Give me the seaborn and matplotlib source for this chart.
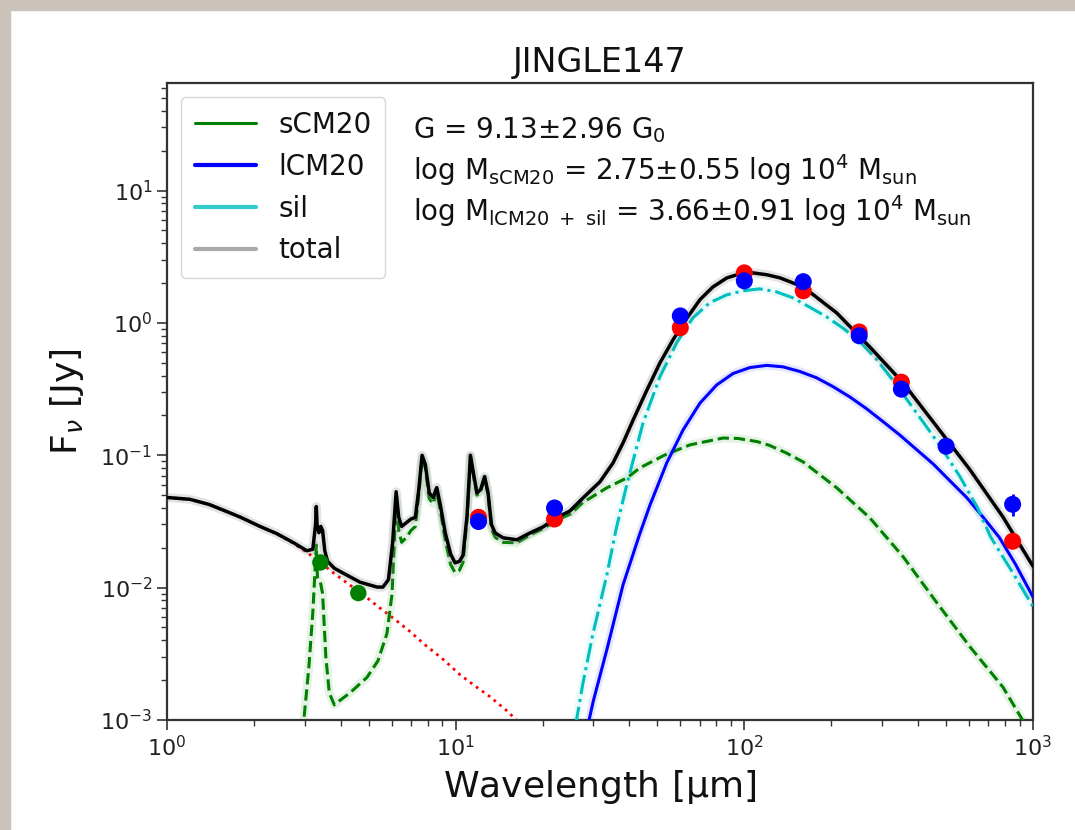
import matplotlib
matplotlib.use("Agg")
import matplotlib.pyplot as plt
from matplotlib.lines import Line2D
from matplotlib.patches import Rectangle
import pandas as pd
import seaborn as sns

# ---------------- photometry ----------------
obs_wl = [12, 22, 60, 100, 160, 250, 350, 500, 850]
obs_flux = [0.0316, 0.040, 1.13, 2.08, 2.05, 0.80, 0.316, 0.117, 0.0426]
obs_err = [0.002, 0.002, 0.05, 0.08, 0.08, 0.03, 0.012, 0.005, 0.008]

model_wl = [12, 22, 60, 100, 160, 250, 350, 850]
model_flux = [0.034, 0.033, 0.92, 2.39, 1.75, 0.855, 0.357, 0.0224]

pah_wl = [3.4, 4.6]
pah_flux = [0.0155, 0.0091]

# ---------------- model components ----------------
star_wl = [1.0, 1.2, 1.4, 1.6, 1.8, 2.1, 2.4, 2.75, 3.05, 3.4, 3.76, 4.24,
           4.8, 5.38, 6.07, 7.0, 7.71, 9.0, 10.35, 11.7, 13.15, 15.0, 16.4, 18.0]
star_flux = [0.048, 0.0465, 0.0425, 0.0378, 0.034, 0.029, 0.0255, 0.0215,
             0.0185, 0.0155, 0.0130, 0.0107, 0.0088, 0.0072, 0.0059, 0.0046,
             0.0038, 0.0029, 0.0022, 0.0018, 0.0015, 0.00118, 0.00098, 0.0008]

total_wl = [1.0, 1.2, 1.4, 1.6, 1.8, 2.1, 2.4, 2.75, 3.05, 3.2, 3.27, 3.29,
            3.31, 3.36, 3.41, 3.46, 3.52, 3.6, 3.8, 4.07, 4.66, 5.34, 5.6,
            5.85, 6.05, 6.22, 6.35, 6.5, 6.75, 7.0, 7.25, 7.45, 7.65, 7.85,
            8.1, 8.35, 8.6, 8.85, 9.2, 9.6, 9.95, 10.3, 10.6, 10.95, 11.25,
            11.5, 11.85, 12.2, 12.6, 12.95, 13.3, 13.7, 14.6, 16.3, 18.1,
            20.1, 22.5, 24.9, 27.6, 31.6, 35.1, 38.0, 41.2, 46.0, 51.0, 56.6,
            63.3, 70.2, 77.8, 87.0, 96.6, 107, 120, 133, 160, 209, 272, 355,
            465, 605, 787, 1000]
total_flux = [0.048, 0.0465, 0.0425, 0.0378, 0.034, 0.029, 0.0256, 0.0218,
              0.0190, 0.0195, 0.030, 0.041, 0.030, 0.026, 0.029, 0.027,
              0.019, 0.0158, 0.014, 0.0129, 0.0110, 0.0101, 0.0101, 0.0115,
              0.022, 0.053, 0.034, 0.029, 0.031, 0.033, 0.034, 0.055, 0.100,
              0.085, 0.052, 0.048, 0.057, 0.042, 0.026, 0.018, 0.0154,
              0.0158, 0.0175, 0.035, 0.100, 0.075, 0.052, 0.055, 0.069,
              0.052, 0.030, 0.0259, 0.0238, 0.0230, 0.0259, 0.0288, 0.034,
              0.038, 0.0476, 0.063, 0.0877, 0.124, 0.185, 0.312, 0.499, 0.745,
              1.09, 1.50, 1.87, 2.19, 2.35, 2.39, 2.31, 2.19, 1.87, 1.19,
              0.659, 0.352, 0.164, 0.0777, 0.0342, 0.0145]

scm20_wl = [2.95, 3.1, 3.2, 3.27, 3.29, 3.32, 3.4, 3.46, 3.55, 3.65, 3.8,
            3.91, 4.3, 4.93, 5.38, 5.78, 6.02, 6.22, 6.35, 6.5, 6.75, 7.0,
            7.25, 7.45, 7.65, 7.85, 8.1, 8.35, 8.6, 8.85, 9.2, 9.6, 9.95,
            10.3, 10.6, 10.95, 11.25, 11.5, 11.85, 12.2, 12.6, 12.95, 13.3,
            13.7, 14.6, 16.3, 18.1, 20.1, 22.5, 25.0, 27.6, 33.4, 39.2, 43.5,
            53.1, 64.9, 84.3, 95.0, 110.6, 122, 140, 160, 209, 272, 355, 465,
            605, 787, 920, 1000]
scm20_flux = [0.0008, 0.0025, 0.0065, 0.016, 0.021, 0.012, 0.011, 0.009,
              0.003, 0.0016, 0.0013, 0.00137, 0.0016, 0.0021, 0.0028, 0.0045,
              0.009, 0.047, 0.027, 0.022, 0.024, 0.027, 0.029, 0.050, 0.095,
              0.080, 0.047, 0.043, 0.053, 0.038, 0.023, 0.015, 0.013, 0.0135,
              0.0155, 0.033, 0.098, 0.072, 0.050, 0.053, 0.067, 0.050, 0.028,
              0.024, 0.022, 0.0218, 0.025, 0.028, 0.0325, 0.036, 0.044,
              0.0568, 0.0675, 0.0804, 0.1007, 0.120, 0.135, 0.134, 0.127,
              0.119, 0.104, 0.089, 0.0568, 0.0337, 0.0171, 0.00766, 0.00357,
              0.00177, 0.001, 0.0008]

lcm20_wl = [28.5, 30.0, 33.4, 38.0, 43.3, 47.1, 53.9, 61.3, 70.2, 80.2, 91.4,
            104.5, 119.5, 136, 155.6, 178, 203, 232, 265, 302, 346, 396, 451,
            516, 589, 672, 764, 870, 1000]
lcm20_flux = [0.00085, 0.0014, 0.0034, 0.0105, 0.025, 0.042, 0.088, 0.155,
              0.248, 0.340, 0.415, 0.460, 0.478, 0.466, 0.430, 0.385, 0.330,
              0.276, 0.225, 0.180, 0.142, 0.110, 0.086, 0.064, 0.048, 0.034,
              0.024, 0.015, 0.0085]

sil_wl = [26.0, 27.6, 29.9, 33.4, 36.0, 39.3, 44.6, 51.0, 58.3, 66.3, 75.8,
          86.9, 98.8, 113, 129, 147, 168, 193, 219, 252, 288, 326, 373, 428,
          487, 559, 640, 713, 850, 1000]
sil_flux = [0.0009, 0.0019, 0.0045, 0.0125, 0.028, 0.062, 0.176, 0.392,
            0.708, 1.09, 1.42, 1.63, 1.75, 1.81, 1.72, 1.55, 1.32, 1.11, 0.918,
            0.719, 0.526, 0.372, 0.249, 0.164, 0.110, 0.0687, 0.0407, 0.0242,
            0.013, 0.0072]

legend_labels = ["sCM20", "lCM20", "sil", "total"]
title = "JINGLE147"
fit_lines = [
    r"G = 9.13$\pm$2.96 G$_0$",
    r"log M$_{\rm sCM20}$ = 2.75$\pm$0.55 log 10$^4$ M$_{\rm sun}$",
    r"log M$_{\rm lCM20\ +\ sil}$ = 3.66$\pm$0.91 log 10$^4$ M$_{\rm sun}$",
]

CYAN = "#00bfbf"

# ---------------- figure ----------------
sns.set_theme(style="ticks")
plt.rcParams["font.family"] = ["DejaVu Sans"]
plt.rcParams["mathtext.fontset"] = "dejavusans"
plt.rcParams["text.color"] = "#111111"
plt.rcParams["axes.labelcolor"] = "#111111"
plt.rcParams["xtick.color"] = "#222222"
plt.rcParams["ytick.color"] = "#222222"

fig = plt.figure(figsize=(10.75, 8.3), dpi=100, facecolor="white")
# beige frame strips along the top and left edges
fig.patches.append(Rectangle((0, 0), 10 / 1075, 1, transform=fig.transFigure,
                             color="#cbc3ba", zorder=0))
fig.patches.append(Rectangle((0, 1 - 10 / 830), 1, 10 / 830,
                             transform=fig.transFigure, color="#cbc3ba", zorder=0))

ax = fig.add_axes([167 / 1075, 1 - 720 / 830, 866 / 1075, 637 / 830])
ax.set_xscale("log")
ax.set_yscale("log")


def curve(wl, flux, color, ls, lw, halo=None, halo_alpha=0.15, z=2):
    df = pd.DataFrame({"wl": wl, "flux": flux})
    if halo is not None:
        sns.lineplot(data=df, x="wl", y="flux", color=halo, lw=lw + 4,
                     alpha=halo_alpha, sort=False, estimator=None, ax=ax,
                     zorder=z - 0.5)
    sns.lineplot(data=df, x="wl", y="flux", color=color, lw=lw, linestyle=ls,
                 sort=False, estimator=None, ax=ax, zorder=z)


curve(star_wl, star_flux, "red", ":", 2.0, z=2)
curve(scm20_wl, scm20_flux, "green", "--", 2.2, halo="#4caf50", z=3)
curve(lcm20_wl, lcm20_flux, "blue", "-", 2.2, halo="#5a5aff", z=3)
curve(sil_wl, sil_flux, CYAN, "-.", 2.2, halo="#7fe0e0", z=3)
curve(total_wl, total_flux, "black", "-", 2.5, halo="grey", halo_alpha=0.22, z=4)

sns.scatterplot(x=pah_wl, y=pah_flux, color="green", s=140, edgecolor="none",
                ax=ax, zorder=5)
sns.scatterplot(x=model_wl, y=model_flux, color="red", s=150, edgecolor="none",
                ax=ax, zorder=6)
ax.errorbar(obs_wl, obs_flux, yerr=obs_err, fmt="none", ecolor="blue",
            elinewidth=2, zorder=6.5)
sns.scatterplot(x=obs_wl, y=obs_flux, color="blue", s=150, edgecolor="none",
                ax=ax, zorder=7)

ax.set_xlim(1, 1000)
ax.set_ylim(1e-3, 65)

ax.set_title(title, fontsize=24, pad=8)
ax.set_xlabel(r"Wavelength [$\mathrm{\mu}$m]", fontsize=26, labelpad=6)
ax.set_ylabel(r"F$_\nu$ [Jy]", fontsize=26, labelpad=10)

ax.tick_params(axis="both", which="major", labelsize=16, length=7, width=1.2,
               direction="out", color="#333333")
ax.tick_params(axis="both", which="minor", length=4, width=1.0,
               direction="out", color="#333333")
for sp in ax.spines.values():
    sp.set_visible(True)
    sp.set_color("#333333")
    sp.set_linewidth(1.6)

handles = [
    Line2D([], [], color="green", lw=2.2),
    Line2D([], [], color="blue", lw=3),
    Line2D([], [], color=CYAN, lw=3, alpha=0.8),
    Line2D([], [], color="darkgrey", lw=3),
]
leg = ax.legend(handles, legend_labels, loc="upper left", fontsize=20,
                frameon=True, fancybox=True, framealpha=0.8,
                edgecolor="#cccccc", handlelength=2.2, borderpad=0.5,
                labelspacing=0.5)

for txt, yb in zip(fit_lines, [0.914, 0.848, 0.783]):
    ax.text(0.284, yb, txt, transform=ax.transAxes, fontsize=20,
            va="baseline", ha="left")

fig.savefig("out.png", dpi=100, facecolor="white")
